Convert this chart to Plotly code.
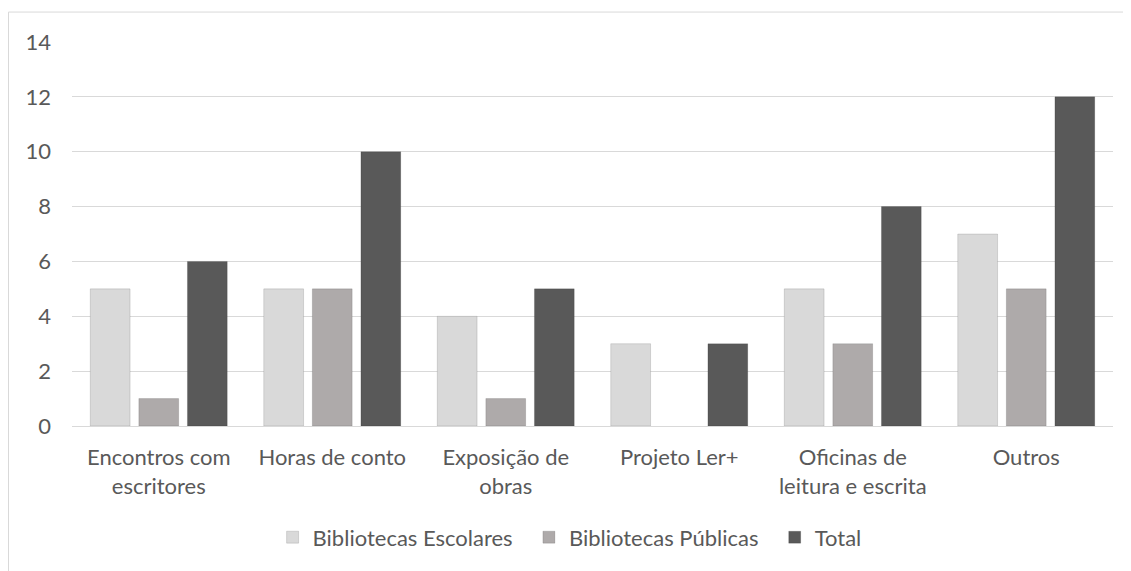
import plotly.graph_objects as go

categories = [
    "Encontros com<br>escritores",
    "Horas de conto",
    "Exposição de<br>obras",
    "Projeto Ler+",
    "Oficinas de<br>leitura e escrita",
    "Outros",
]
escolares = [5, 5, 4, 3, 5, 7]
publicas = [1, 5, 1, 0, 3, 5]
total = [6, 10, 5, 3, 8, 12]

# trailing no-break spaces widen the gap between legend entries
series = [
    ("Bibliotecas Escolares\u00a0\u00a0", escolares, "#d9d9d9"),
    ("Bibliotecas Públicas\u00a0\u00a0", publicas, "#aeaaaa"),
    ("Total", total, "#595959"),
]

fig = go.Figure()
for name, values, color in series:
    fig.add_trace(
        go.Bar(
            x=categories,
            y=values,
            name=name,
            marker=dict(
                color=color,
                line=dict(
                    color="rgba(0,0,0,0.12)",
                    width=[0 if v == 0 else 1 for v in values],
                ),
            ),
        )
    )

# page body adds an 8px offset, so the figure is shrunk to fit the window
fig.update_layout(
    width=1123,
    height=563,
    margin=dict(l=64, r=18, t=34, b=140),
    paper_bgcolor="white",
    plot_bgcolor="white",
    font=dict(family="Lato, Calibri, sans-serif", size=22, color="#595959"),
    barmode="group",
    bargap=0.16,
    bargroupgap=0.18,
    showlegend=True,
    legend=dict(
        orientation="h",
        x=0.478,
        xanchor="center",
        y=-0.29,
        yanchor="middle",
        font=dict(size=22, color="#595959"),
        itemwidth=30,
        traceorder="normal",
    ),
    xaxis=dict(
        automargin=False,
        showgrid=False,
        showline=True,
        linecolor="#d9d9d9",
        ticks="",
        ticklabelstandoff=12,
        tickfont=dict(size=22, color="#595959"),
    ),
    yaxis=dict(
        automargin=False,
        range=[0, 14],
        dtick=2,
        showgrid=True,
        gridcolor="#d9d9d9",
        gridwidth=1,
        zeroline=False,
        showline=False,
        ticks="",
        ticklabelstandoff=20,
        tickfont=dict(size=22, color="#595959"),
    ),
    shapes=[
        dict(
            type="rect",
            xref="paper",
            yref="paper",
            x0=-0.0610,
            x1=1.03,
            y0=-0.6,
            y1=1.078,
            line=dict(color="#d9d9d9", width=1),
            fillcolor="rgba(0,0,0,0)",
            layer="below",
        )
    ],
)

fig.write_html("out.html")
